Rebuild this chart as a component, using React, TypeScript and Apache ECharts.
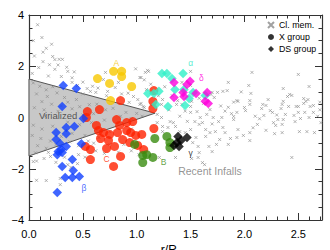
import React, { useEffect, useRef } from "react";
import * as echarts from "echarts";

// ---- data (r/R200, Δv/σ) ----
const clusterMembers: number[][] = [
  [0.08,3.62],[0.04,3.0],[0.12,3.12],[0.21,2.86],[0.13,2.55],[0.22,2.38],[0.24,2.26],[0.28,2.27],[0.31,2.27],[0.13,2.18],
  [0.19,2.06],[0.35,1.96],[0.36,1.8],[0.42,1.78],[0.24,1.88],[0.18,1.62],[0.4,1.55],[0.4,1.37],[0.5,1.38],[0.54,1.13],
  [0.59,1.22],[0.57,1.02],[0.64,1.15],[0.5,0.92],[0.69,1.48],[0.72,0.85],[0.71,1.76],[0.99,1.9],[1.1,1.84],[1.04,1.56],
  [1.07,1.47],[0.83,1.37],[0.8,1.17],[0.73,1.02],[0.92,0.95],[0.97,0.82],[1.01,0.7],[1.04,0.55],[1.07,0.39],[0.93,0.59],
  [0.86,0.92],[0.3,1.6],[0.45,1.25],[0.62,0.98],[0.05,2.4],[0.09,1.95],[0.03,1.72],[0.27,2.05],[0.16,2.7],
  [0.04,1.35],[0.1,1.22],[0.16,1.08],[0.22,1.2],[0.07,0.92],[0.17,0.82],[0.26,0.96],[0.33,0.78],[0.12,0.62],[0.21,0.52],
  [0.36,0.6],[0.44,0.7],[0.05,0.38],[0.14,0.3],[0.27,0.24],[0.4,0.34],[0.47,0.42],[0.56,0.5],[0.63,0.52],[0.71,0.3],
  [0.78,0.36],[0.9,0.2],[1.0,0.16],[0.85,0.05],[0.95,-0.05],[1.05,0.05],[0.7,-0.1],[0.58,-0.2],[0.47,-0.28],[0.36,-0.18],
  [0.22,-0.34],[0.12,-0.45],[0.04,-0.3],[0.03,-0.7],[0.11,-0.82],[0.2,-0.92],[0.3,-0.74],[0.4,-0.62],[0.52,-0.7],[0.62,-0.46],
  [0.75,-0.55],[0.08,-1.1],[0.16,-1.2],[0.25,-1.06],[0.38,-0.95],[0.46,-1.1],[0.06,-1.38],[0.18,-1.36],[0.55,-0.92],[0.65,-0.78],
  [0.15,0.05],[0.6,0.15],[0.3,0.45],[0.5,0.1],[0.82,-0.25],[0.95,-0.45],
  [0.04,-1.72],[0.07,-1.7],[0.07,-2.45],[0.16,-2.46],[0.29,-2.62],[0.29,-2.38],[0.36,-1.84],[0.39,-1.95],[0.2,-1.52],[0.14,-1.6],
  [0.33,-1.55],[0.46,-1.45],[0.52,-1.55],[0.62,-1.3],[0.7,-1.4],[0.75,-1.05],[0.88,-1.05],[0.6,-1.0],[0.95,-1.3],[0.83,-1.35],
  [1.02,-1.45],[0.45,-1.8],[0.25,-1.75],
  [1.08,1.76],[1.11,1.8],[1.03,1.56],[1.5,1.8],[1.42,1.37],[1.5,1.25],[1.09,1.09],[1.85,1.37],[1.7,0.98],[1.75,0.98],
  [1.8,1.02],[1.84,1.05],[1.69,0.9],[1.72,0.78],[1.24,0.7],[1.38,0.66],[1.5,0.43],[1.03,0.51],[1.06,0.43],[1.23,0.51],
  [1.37,0.51],[1.42,0.51],[1.51,0.63],[1.5,0.2],[1.56,0.23],[1.59,0.0],[1.61,-0.2],[1.54,-0.16],[1.68,0.31],[1.71,0.0],
  [1.76,-0.16],[1.79,0.0],[1.8,-0.39],[1.68,-0.59],[1.73,-0.55],[1.82,-0.59],[1.64,-0.74],[1.23,0.0],[1.31,-0.16],[1.34,-0.2],
  [1.36,-0.35],[1.29,-0.39],[1.24,-0.35],[1.19,-0.2],[1.19,0.12],[1.24,-0.55],[1.4,-0.55],[1.45,-0.59],[1.5,-0.47],[1.52,-0.98],
  [1.57,-1.13],[1.21,-1.56],[1.58,-0.27],[1.64,-0.47],[1.55,-0.78],[1.58,-1.37],[1.57,-1.56],[1.61,-1.76],[1.63,-1.84],[1.67,-1.13],
  [1.7,-1.33],[1.74,-1.05],[1.77,-0.86],[1.85,-1.05],[1.87,-0.82],[1.36,-1.56],[1.51,-1.6],[1.3,0.3],[1.45,0.25],[1.62,0.55],
  [1.85,0.4],[1.88,0.15],[1.65,0.12],[1.4,0.05],[1.33,0.85],[1.58,0.75],[1.2,0.85],[1.13,1.3],[1.26,1.2],[1.9,0.6],
  [1.78,0.45],[1.82,0.25],[1.47,-0.15],[1.7,-0.25],
  [2.07,1.76],[2.5,1.68],[2.6,1.21],[2.04,1.25],[2.06,0.94],[1.93,0.66],[1.94,0.63],[2.05,0.66],[2.05,0.51],[2.0,0.39],
  [2.01,0.27],[1.93,0.2],[1.9,0.04],[1.9,-0.08],[2.17,0.51],[2.2,0.47],[2.16,0.35],[2.18,0.08],[2.24,0.27],[2.26,0.2],
  [2.36,1.13],[2.42,0.9],[2.44,0.86],[2.4,0.82],[2.36,0.63],[2.35,0.51],[2.34,0.35],[2.41,0.43],[2.48,0.43],[2.5,0.43],
  [2.55,0.74],[2.57,0.63],[2.59,0.7],[2.55,0.55],[2.61,0.43],[2.64,0.47],[2.56,0.2],[2.64,0.2],[2.5,0.2],[2.46,0.08],
  [2.38,0.12],[2.52,-0.04],[2.6,0.0],[2.47,-0.16],[2.36,-0.08],[2.35,-0.27],[2.27,-0.2],[2.29,-0.31],[2.31,-0.08],[2.12,-0.27],
  [1.94,-0.47],[1.99,-0.7],[2.05,-0.59],[2.05,-0.9],[1.93,-0.78],[2.28,-0.63],[2.35,-0.59],[2.44,-1.56],[2.51,-0.55],[2.58,-0.55],
  [2.65,-0.59],[2.7,0.3],[2.68,0.05],[2.71,-0.2],[2.1,0.05],[2.14,-0.05],[2.22,0.7],[1.97,1.0],[2.3,0.1],[2.7,0.6],
  [2.08,-0.4],[2.2,-0.5],
];

// X-ray groups (circles)
const groupA: number[][] = [
  [0.636,1.52],[0.748,1.33],[0.785,1.8],[0.86,1.8],[0.86,1.6],[0.953,1.21],[0.757,0.66],
];
const groupC: number[][] = [
  [1.159,1.05],[1.15,0.63],[1.15,0.35],[0.85,0.66],[0.654,0.31],[0.542,0.23],[0.533,0.0],[0.813,-0.08],[0.841,-0.31],[0.907,-0.2],
  [0.907,-0.51],[0.626,-0.31],[0.645,-0.51],[0.692,-0.59],[0.748,-0.66],[0.664,-0.82],[0.738,-0.9],[0.822,-0.59],[0.794,-1.13],[0.869,-0.86],
  [0.935,-0.98],[0.72,-1.21],[0.963,-0.16],[0.944,-0.59],[0.991,-0.7],[1.047,-0.66],[1.159,-0.43],[1.009,-1.09],[1.065,-1.25],[0.57,-1.25],
  [0.523,-1.13],[0.57,-1.64],[0.85,-1.52],[0.785,-1.91],
];
const groupB: number[][] = [
  [0.981,-1.05],[1.056,-1.48],[1.093,-1.45],[1.056,-1.76],[1.15,-1.56],[1.168,-0.82],[1.28,-0.74],[1.308,-0.98],[1.308,-1.17],
];

// DS groups (diamonds)
const groupBeta: number[][] = [
  [0.318,1.25],[0.439,1.13],[0.308,0.43],[0.505,-0.04],[0.421,-0.35],[0.346,-0.39],[0.346,-0.63],[0.252,-0.59],[0.252,-0.86],[0.29,-1.02],
  [0.346,-1.13],[0.486,-1.02],[0.271,-1.33],[0.308,-1.37],[0.262,-1.45],[0.299,-1.25],[0.402,-1.64],[0.308,-1.91],[0.411,-2.07],[0.336,-2.34],
  [0.402,-2.34],[0.467,-2.3],[0.262,-2.93],
];
const groupAlpha: number[][] = [
  [1.103,0.94],[1.159,0.94],[1.206,1.02],[1.234,1.72],[1.28,1.72],[1.43,1.72],[1.327,1.52],[1.355,1.09],[1.439,1.09],[1.523,0.98],
  [1.486,0.74],[1.449,0.47],[1.29,0.43],[1.178,0.51],[1.636,0.86],
];
const groupDelta: number[][] = [
  [1.346,1.37],[1.467,1.29],[1.495,1.41],[1.43,0.98],[1.439,0.82],[1.551,0.94],[1.654,0.98],[1.636,0.63],[1.664,0.55],[1.346,0.78],
];
const groupGamma: number[][] = [
  [1.383,-0.74],[1.411,-0.9],[1.374,-0.98],[1.346,-1.09],[1.467,-0.78],[1.393,-1.13],
];

// virialized region polygon
const virialZone: number[][] = [[0, 1.5], [1.17, 0.17], [0, -1.5]];

const groupLabels = [
  { text: "A", x: 0.81, y: 2.14, color: "#F5C400" },
  { text: "α", x: 1.5, y: 2.11, color: "#2EE8C4" },
  { text: "δ", x: 1.6, y: 1.53, color: "#FF00DD" },
  { text: "β", x: 0.51, y: -2.74, color: "#1040FF" },
  { text: "C", x: 0.72, y: -1.61, color: "#FF2A00" },
  { text: "B", x: 1.25, y: -1.75, color: "#3A8C10" },
  { text: "γ", x: 1.5, y: -1.37, color: "#000000" },
];
const regionLabels = [
  { text: "Virialized", x: 0.27, y: 0.08, color: "#333333", size: 9.5 },
  { text: "Recent Infalls", x: 1.68, y: -2.09, color: "#777777", size: 10.5 },
];

const xTicks = { min: 0, max: 2.72, interval: 0.5 };
const yTicks = { min: -4, max: 4, interval: 2 };

const FONT = "'Liberation Sans', Arial, Helvetica, sans-serif";
const AXIS_COLOR = "#333";

export default function App() {
  const ref = useRef<HTMLDivElement>(null);
  useEffect(() => {
    if (!ref.current) return;
    document.body.style.margin = "0";
    const chart = echarts.init(ref.current, undefined, { renderer: "svg" });
    const crossPath = "path://M0 0L10 10M10 0L0 10";
    const tickCommon = {
      axisLine: { show: true, onZero: false, lineStyle: { color: AXIS_COLOR, width: 1.2 } },
      axisTick: { show: true, inside: true, length: 7, lineStyle: { color: AXIS_COLOR, width: 1 } },
      splitLine: { show: false },
    };
    const xBase = {
      type: "value",
      min: xTicks.min,
      max: xTicks.max,
      interval: xTicks.interval,
      ...tickCommon,
      minorTick: { show: true, splitNumber: 5, length: 3.5, lineStyle: { color: AXIS_COLOR, width: 1 } },
    };
    const yBase = {
      type: "value",
      min: yTicks.min,
      max: yTicks.max,
      interval: yTicks.interval,
      ...tickCommon,
      minorTick: { show: true, splitNumber: 4, length: 3.5, lineStyle: { color: AXIS_COLOR, width: 1 } },
    };
    const circleSeries = (name: string, data: number[][], color: string) => ({
      type: "scatter",
      name,
      data,
      symbol: "circle",
      symbolSize: 9,
      itemStyle: { color },
      z: 4,
    });
    const diamondSeries = (name: string, data: number[][], color: string) => ({
      type: "scatter",
      name,
      data,
      symbol: "diamond",
      symbolSize: 9.5,
      itemStyle: { color },
      z: 4,
    });
    chart.setOption({
      animation: false,
      textStyle: { fontFamily: FONT },
      grid: { left: 29, right: 8, top: 15, bottom: 30, containLabel: false, outerBoundsMode: "none" },
      xAxis: [
        {
          ...xBase,
          position: "bottom",
          axisLabel: {
            show: true,
            fontSize: 11,
            color: "#000",
            margin: 8,
            fontFamily: FONT,
            showMaxLabel: false,
            formatter: (v: number) => v.toFixed(1),
          },
          name: "{a|r/R}{s|200}",
          nameLocation: "middle",
          nameGap: 19,
          nameTextStyle: {
            rich: {
              a: { fontSize: 12, color: "#000", fontFamily: FONT },
              s: { fontSize: 8, color: "#000", fontFamily: FONT, verticalAlign: "bottom", padding: [6, 0, 0, 0] },
            },
          },
        },
        { ...xBase, position: "top", axisLabel: { show: false } },
      ],
      yAxis: [
        {
          ...yBase,
          position: "left",
          axisLabel: {
            show: true,
            fontSize: 11,
            color: "#000",
            margin: 5,
            fontFamily: FONT,
            formatter: (v: number) => String(v).replace("-", "−"),
          },
          name: "Δv/σ",
          nameLocation: "middle",
          nameGap: 29,
          nameTextStyle: { fontSize: 12, color: "#000", fontFamily: FONT },
        },
        { ...yBase, position: "right", axisLabel: { show: false } },
      ],
      legend: {
        orient: "vertical",
        left: 267,
        top: 20,
        padding: 0,
        itemWidth: 6,
        itemHeight: 6,
        itemGap: 2,
        align: "left",
        textStyle: { fontSize: 8.8, color: "#000", fontFamily: FONT, lineHeight: 10 },
        data: ["Cl. mem.", "X group", "DS group"],
      },
      series: [
        {
          type: "custom",
          name: "Virialized zone",
          data: [[0, 0]],
          silent: true,
          z: 1,
          renderItem: (_params: any, api: any) => {
            const pts = virialZone.map((p) => api.coord(p));
            return {
              type: "polygon",
              shape: { points: pts },
              style: { fill: "#C8C8C8", stroke: "#555", lineWidth: 1 },
            };
          },
        },
        {
          type: "scatter",
          name: "Cl. mem.",
          data: clusterMembers,
          symbol: crossPath,
          symbolSize: 3,
          itemStyle: { color: "rgba(0,0,0,0)", borderColor: "#8A8A8A", borderWidth: 0.8 },
          z: 2,
        },
        circleSeries("A", groupA, "#F7C800"),
        circleSeries("C", groupC, "#FF2200"),
        circleSeries("B", groupB, "#3A8C10"),
        diamondSeries("β", groupBeta, "#1040FF"),
        diamondSeries("α", groupAlpha, "#30F0C8"),
        diamondSeries("δ", groupDelta, "#FF00DD"),
        diamondSeries("γ", groupGamma, "#000000"),
        { type: "scatter", name: "X group", data: [], symbol: "circle", itemStyle: { color: "#000" } },
        { type: "scatter", name: "DS group", data: [], symbol: "diamond", itemStyle: { color: "#000" } },
        {
          type: "scatter",
          name: "group labels",
          symbolSize: 0,
          silent: true,
          z: 5,
          data: groupLabels.map((l) => ({
            name: l.text,
            value: [l.x, l.y],
            label: { color: l.color },
          })),
          label: { show: true, position: "inside", formatter: "{b}", fontSize: 8.5, fontFamily: FONT },
        },
        {
          type: "scatter",
          name: "region labels",
          symbolSize: 0,
          silent: true,
          z: 5,
          data: regionLabels.map((l) => ({
            name: l.text,
            value: [l.x, l.y],
            label: { color: l.color, fontSize: l.size },
          })),
          label: { show: true, position: "inside", formatter: "{b}", fontFamily: FONT },
        },
      ],
    });
    return () => chart.dispose();
  }, []);
  return <div ref={ref} style={{ width: 330, height: 250 }} />;
}
